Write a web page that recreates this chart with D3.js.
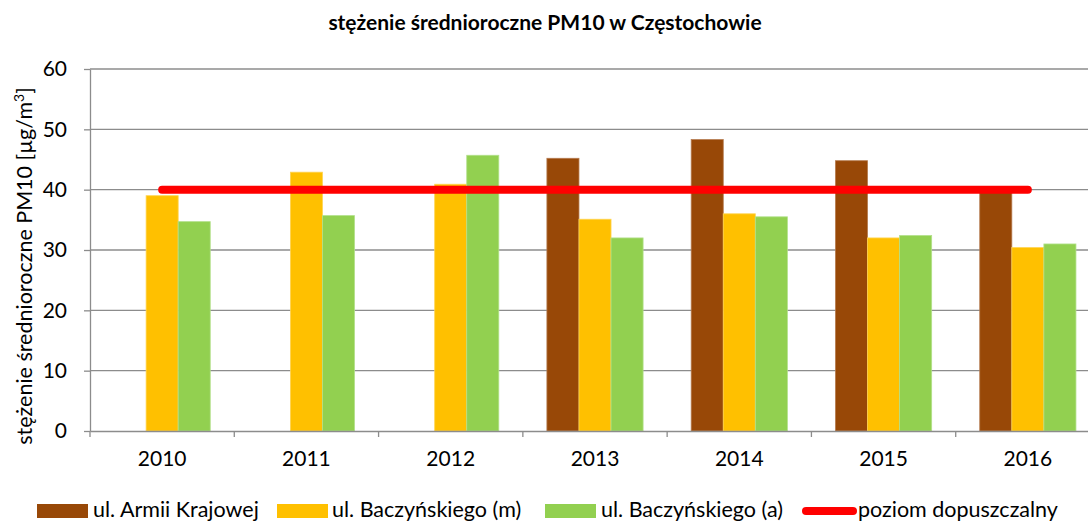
<!DOCTYPE html>
<html>
<head>
<meta charset="utf-8">
<script src="https://cdn.jsdelivr.net/npm/d3@7"></script>
<style>
  html, body { margin: 0; padding: 0; background: #fff; }
  svg { display: block; font-family: Lato, "Open Sans", sans-serif; }
</style>
</head>
<body>
<svg id="chart" width="1088" height="521"></svg>
<script>
// Annual mean PM10 concentration in Częstochowa, µg/m³
const years = ["2010", "2011", "2012", "2013", "2014", "2015", "2016"];
const armiiKrajowej = [null, null, null, 45.2, 48.3, 44.8, 39.9];
const baczynskiegoM = [39.0, 42.9, 40.9, 35.1, 36.0, 32.0, 30.4];
const baczynskiegoA = [34.7, 35.7, 45.7, 32.0, 35.5, 32.4, 31.0];
const limitValues   = [40, 40, 40, 40, 40, 40, 40];
const yTicks = [0, 10, 20, 30, 40, 50, 60];

const seriesNames = ["ul. Armii Krajowej", "ul. Baczyńskiego (m)", "ul. Baczyńskiego (a)"];
const seriesColors = ["#984807", "#FFC000", "#92D050"];
const seriesEdges = ["#b57a4e", "#ffd452", "#b2e08a"];
const limitName = "poziom dopuszczalny";

const svg = d3.select("#chart");
const plot = { left: 90, right: 1100, top: 69, bottom: 431 };

const x = d3.scaleBand().domain(years).range([plot.left, plot.right]).padding(0);
const xs = d3.scaleBand().domain(d3.range(3)).range([0, x.bandwidth()])
  .paddingInner(0).paddingOuter(0.75);
const y = d3.scaleLinear().domain([0, 60]).range([plot.bottom, plot.top]);

// horizontal gridlines
svg.append("g")
  .selectAll("line")
  .data(yTicks.filter(d => d > 0))
  .join("line")
  .attr("x1", plot.left).attr("x2", plot.right)
  .attr("y1", d => y(d)).attr("y2", d => y(d))
  .attr("stroke", "#8c8c8c").attr("stroke-width", 1.3);

// bars
const series = [armiiKrajowej, baczynskiegoM, baczynskiegoA];
series.forEach((vals, si) => {
  svg.append("g")
    .selectAll("rect")
    .data(years.map((yr, i) => ({ yr, v: vals[i] })).filter(d => d.v != null))
    .join("rect")
    .attr("x", d => x(d.yr) + xs(si))
    .attr("width", xs.bandwidth())
    .attr("y", d => y(d.v))
    .attr("height", d => y(0) - y(d.v))
    .attr("fill", seriesColors[si])
    .attr("stroke", seriesEdges[si])
    .attr("stroke-width", 0.8);
});

// y axis
const yAxis = svg.append("g")
  .attr("transform", `translate(${plot.left},0)`)
  .call(d3.axisLeft(y).tickValues(yTicks).tickSize(6).tickPadding(17).tickSizeOuter(0));
yAxis.select(".domain").attr("stroke", "#8c8c8c").attr("stroke-width", 1.3);
yAxis.selectAll(".tick line").attr("stroke", "#8c8c8c").attr("stroke-width", 1.3);
yAxis.selectAll(".tick text")
  .attr("font-size", 21).attr("fill", "#000").attr("font-family", "Lato, sans-serif");

// x axis
const xAxis = svg.append("g")
  .attr("transform", `translate(0,${plot.bottom})`)
  .call(d3.axisBottom(x).tickSize(0).tickPadding(20).tickSizeOuter(0));
xAxis.select(".domain").attr("stroke", "#8c8c8c").attr("stroke-width", 1.3);
xAxis.selectAll(".tick text")
  .attr("font-size", 21).attr("fill", "#000").attr("font-family", "Lato, sans-serif");
svg.append("g")
  .selectAll("line")
  .data(years)
  .join("line")
  .attr("x1", d => x(d)).attr("x2", d => x(d))
  .attr("y1", plot.bottom).attr("y2", plot.bottom + 6)
  .attr("stroke", "#8c8c8c").attr("stroke-width", 1.3);

// limit line
const line = d3.line()
  .x((d, i) => x(years[i]) + x.bandwidth() / 2)
  .y(d => y(d));
svg.append("path")
  .datum(limitValues)
  .attr("d", line)
  .attr("fill", "none")
  .attr("stroke", "#FF0000")
  .attr("stroke-width", 8)
  .attr("stroke-linecap", "round");

// title
svg.append("text")
  .attr("x", 545).attr("y", 30)
  .attr("text-anchor", "middle")
  .attr("font-size", 21).attr("font-weight", "bold")
  .text("stężenie średnioroczne PM10 w Częstochowie");

// y axis title
const yt = svg.append("text")
  .attr("transform", `translate(32,266) rotate(-90)`)
  .attr("text-anchor", "middle")
  .attr("font-size", 21.5);
yt.append("tspan").text("stężenie średnioroczne PM10 [µg/m");
yt.append("tspan").attr("font-size", 14).attr("dy", -8).text("3");
yt.append("tspan").attr("dy", 8).text("]");

// legend
const legendY = 511;
const legendItems = [
  { sx: 37, tx: 93, label: seriesNames[0], color: seriesColors[0] },
  { sx: 277, tx: 332, label: seriesNames[1], color: seriesColors[1] },
  { sx: 545, tx: 601, label: seriesNames[2], color: seriesColors[2] }
];
const lg = svg.append("g");
legendItems.forEach(it => {
  lg.append("rect")
    .attr("x", it.sx).attr("y", legendY - 7)
    .attr("width", 51).attr("height", 14)
    .attr("fill", it.color);
  lg.append("text")
    .attr("x", it.tx).attr("y", legendY + 6)
    .attr("font-size", 21.5)
    .text(it.label);
});
lg.append("line")
  .attr("x1", 806).attr("x2", 853)
  .attr("y1", legendY).attr("y2", legendY)
  .attr("stroke", "#FF0000").attr("stroke-width", 8).attr("stroke-linecap", "round");
lg.append("text")
  .attr("x", 858).attr("y", legendY + 6)
  .attr("font-size", 21.5)
  .text(limitName);
</script>
</body>
</html>
